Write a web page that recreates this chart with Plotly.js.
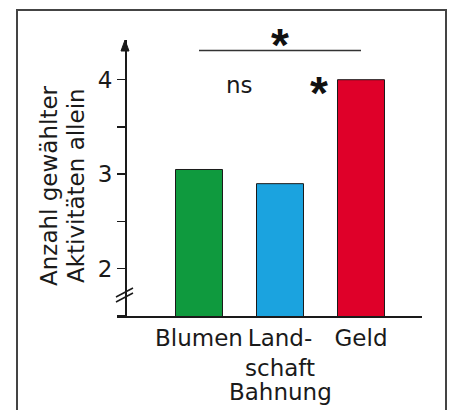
<!DOCTYPE html>
<html>
<head>
<meta charset="utf-8">
<script src="https://cdn.plot.ly/plotly-3.0.1.min.js"></script>
<style>html,body{margin:0;padding:0;background:#fff;}#chart{width:454px;height:410px;}</style>
</head>
<body>
<div id="chart"></div>
<script>
// Data
const categories = ["Blumen", "Land-<br>schaft", "Geld"];
const values = [3.05, 2.9, 4.0];
const barColors = ["#0f9a3e", "#1ba3df", "#df0029"];
const yTickVals = [2, 3, 4];
const yTickText = ["2", "3", "4"];
const yTitleLines = ["Anzahl gewählter", "Aktivitäten allein"];
const xTitle = "Bahnung";
const sigLabels = ["ns", "*", "*"];

const FONT = "DejaVu Sans, sans-serif";
const INK = "#1a1a1a";

// plot geometry helpers
const L = 117, R = 32, T = 40, B = 94, W = 454, H = 410;
const pw = W - L - R, ph = H - T - B;
const yAxisPos = 8 / pw;
const px2x = px => (px - L) / pw;
const py2y = py => (H - B - py) / ph;

const trace = {
  type: "bar",
  x: categories,
  y: values,
  width: 0.58,
  marker: { color: barColors, line: { color: INK, width: 1 } },
  hoverinfo: "skip"
};

const shapes = [
  // significance bracket line (Blumen to Geld)
  { type: "line", xref: "x", yref: "y", x0: 0, x1: 2, y0: 4.31, y1: 4.31,
    line: { color: "#333", width: 1.5 } },
  // axis arrow head
  { type: "path", xref: "paper", yref: "paper",
    path: `M ${yAxisPos - 4/pw},${py2y(51)} L ${yAxisPos},${py2y(40)} L ${yAxisPos + 4/pw},${py2y(51)} Z`,
    fillcolor: INK, line: { color: INK, width: 1 } },
  // axis break marks
  { type: "line", xref: "paper", yref: "paper", x0: px2x(116), y0: py2y(297), x1: px2x(133), y1: py2y(288),
    line: { color: INK, width: 1.5 } },
  { type: "line", xref: "paper", yref: "paper", x0: px2x(116), y0: py2y(302), x1: px2x(133), y1: py2y(293),
    line: { color: INK, width: 1.5 } },
  // frame
  { type: "rect", xref: "paper", yref: "paper", x0: px2x(17), x1: px2x(446), y0: py2y(430), y1: py2y(10),
    line: { color: "#444", width: 2 }, layer: "below" }
];

const annotations = [
  { text: yTitleLines[0], xref: "paper", yref: "paper", x: px2x(49), y: py2y(186), textangle: -90,
    showarrow: false, font: { family: FONT, size: 23, color: INK }, xanchor: "center", yanchor: "middle" },
  { text: yTitleLines[1], xref: "paper", yref: "paper", x: px2x(76), y: py2y(186), textangle: -90,
    showarrow: false, font: { family: FONT, size: 23, color: INK }, xanchor: "center", yanchor: "middle" },
  { text: xTitle, xref: "x", yref: "paper", x: 1, y: py2y(392), showarrow: false,
    font: { family: FONT, size: 23, color: INK }, xanchor: "center", yanchor: "middle" },
  { text: sigLabels[0], xref: "x", yref: "y", x: 0.5, y: 3.94, showarrow: false,
    font: { family: FONT, size: 23, color: INK }, xanchor: "center", yanchor: "middle" },
  { text: "<b>" + sigLabels[1] + "</b>", xref: "x", yref: "y", x: 1, y: 4.40, showarrow: false, yshift: -3,
    font: { family: "Liberation Sans, sans-serif", size: 46, color: "#111" }, xanchor: "center", yanchor: "middle" },
  { text: "<b>" + sigLabels[2] + "</b>", xref: "x", yref: "y", x: 2, xshift: -42, y: 3.93, showarrow: false, yshift: -7,
    font: { family: "Liberation Sans, sans-serif", size: 46, color: "#111" }, xanchor: "center", yanchor: "middle" }
];

const layout = {
  width: W, height: H,
  margin: { l: L, r: R, t: T, b: B, pad: 0 },
  paper_bgcolor: "#fff", plot_bgcolor: "rgba(0,0,0,0)",
  showlegend: false,
  bargap: 0.42,
  xaxis: {
    type: "category",
    range: [(L - 199) / 81, (W - R - 199) / 81],
    showline: true, linecolor: INK, linewidth: 2,
    ticks: "", showgrid: false, zeroline: false,
    tickfont: { family: FONT, size: 23, color: INK },
    fixedrange: true
  },
  yaxis: {
    anchor: "free", position: yAxisPos,
    range: [1.5, 4.42],
    showline: true, linecolor: INK, linewidth: 1.5,
    tickmode: "array", tickvals: yTickVals, ticktext: yTickText,
    ticks: "outside", ticklen: 8, tickwidth: 1.5, tickcolor: INK,
    minor: { dtick: 0.5, tick0: 0, ticks: "outside", ticklen: 8, tickwidth: 1.5, tickcolor: INK, showgrid: false },
    showgrid: false, zeroline: false,
    tickfont: { family: FONT, size: 23, color: INK },
    fixedrange: true
  },
  shapes: shapes,
  annotations: annotations
};

Plotly.newPlot("chart", [trace], layout, { displayModeBar: false, staticPlot: true });
</script>
</body>
</html>
